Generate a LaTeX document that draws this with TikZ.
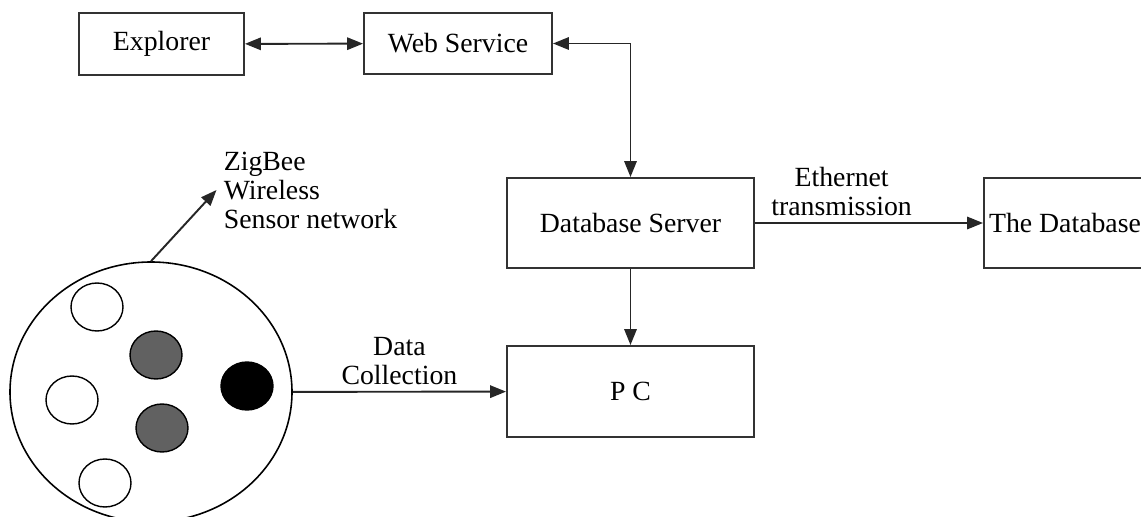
\documentclass[tikz,border=0pt]{standalone}
\usepackage{fontspec}
\setmainfont{Liberation Serif}
\usetikzlibrary{shapes.geometric,arrows.meta,positioning}

\begin{document}
\begin{tikzpicture}[
    % Define styles
    block/.style={
        rectangle,
        draw=black!80,
        line width=1.1pt,
        fill=white,
        align=center,
        inner sep=2pt
    },
    sensor/.style={
        ellipse,
        draw=black,
        line width=0.8pt,
        minimum width=1.04cm,
        minimum height=0.96cm,
        inner sep=0pt
    },
    line/.style={-{Triangle[length=9pt,width=7pt]}, line width=1.1pt, draw=black!85},
    dline/.style={{Triangle[length=9pt,width=7pt]}-{Triangle[length=9pt,width=7pt]}, line width=1.1pt, draw=black!85},
    every node/.style={font=\fontsize{15.8}{16.5}\selectfont}
]

% Page frame
\clip (0,0) rectangle (22.82,-10.34);

% Upper blocks
\node[block, minimum width=3.3cm, minimum height=1.24cm] (explorer) at (3.23,-0.88) {Explorer};
\node[block, minimum width=3.76cm, minimum height=1.22cm] (webservice) at (9.16,-0.87) {Web Service};

% Server side
\node[block, minimum width=4.94cm, minimum height=1.8cm] (dbserver) at (12.61,-4.46) {Database Server};
\node[block, minimum width=4.94cm, minimum height=1.82cm] (pc) at (12.61,-7.83) {P C};
\node[block, minimum width=3.24cm, minimum height=1.8cm] (database) at (21.30,-4.46) {The Database};

% Wireless sensor network
\node[ellipse, draw=black, line width=0.9pt, minimum width=5.64cm, minimum height=5.2cm, inner sep=0pt] (wsn) at (3.02,-7.84) {};
\node[sensor] (nodea) at (1.94,-6.14) {};
\node[sensor, fill=black!62] (nodeb) at (3.12,-7.10) {};
\node[sensor] (nodec) at (1.44,-8.00) {};
\node[sensor, fill=black!62] (noded) at (3.24,-8.56) {};
\node[sensor, fill=black] (sink) at (4.94,-7.72) {};
\node[sensor] (nodee) at (2.10,-9.66) {};

\node[align=left, anchor=west, inner sep=2pt] (zigbee) at (4.40,-3.80) {ZigBee\\Wireless\\Sensor network};

% Connections
\draw[dline] (explorer) -- (webservice);
\draw[dline] (webservice.east) -| (dbserver.north);
\draw[line] (dbserver) -- (pc);
\draw[line] (dbserver) -- node[pos=0.38, above, align=center] {Ethernet\\transmission} (database);
\draw[line] (wsn) -- node[above, align=center] {Data\\Collection} (pc);
\draw[line] (wsn.north) -- ([xshift=-2pt]zigbee.west);

\end{tikzpicture}
\end{document}
